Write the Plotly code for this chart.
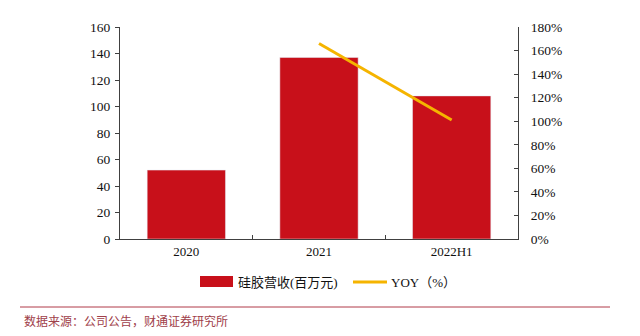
import plotly.graph_objects as go

categories = ["2020", "2021", "2022H1"]
revenue = [52, 137, 108]          # 硅胶营收(百万元)
yoy = [None, 166, 101]            # YOY (%)
left_ticks = [0, 20, 40, 60, 80, 100, 120, 140, 160]
right_ticks = [0, 20, 40, 60, 80, 100, 120, 140, 160, 180]

RED = "#C8101A"
GOLD = "#F5B400"
AX = "#404040"
SERIF = "Liberation Serif, Times New Roman, serif"
CJK = "Liberation Serif, Noto Sans CJK SC, serif"

fig = go.Figure()
fig.add_trace(go.Bar(x=categories, y=revenue, marker_color=RED, width=0.59,
                     name="硅胶营收(百万元)", showlegend=False))
fig.add_trace(go.Scatter(x=categories, y=yoy, yaxis="y2", mode="lines",
                         line=dict(color=GOLD, width=3), name="YOY（%）",
                         showlegend=False))

fig.update_layout(
    width=640, height=336,
    margin=dict(l=120, r=122, t=27, b=97),
    paper_bgcolor="white", plot_bgcolor="white",
    font=dict(family=SERIF, size=13, color="#111"),
    xaxis=dict(type="category", showline=True, linecolor=AX, linewidth=1,
               ticks="inside", ticklen=4, tickcolor=AX, tickson="boundaries",
               showgrid=False, zeroline=False,
               tickfont=dict(family=SERIF, size=13)),
    yaxis=dict(range=[0, 160], tickvals=left_ticks, showline=True, linecolor=AX,
               linewidth=1, ticks="outside", ticklen=4, tickcolor=AX,
               ticklabelstandoff=2,
               showgrid=False, zeroline=False, tickfont=dict(family=SERIF, size=13.5)),
    yaxis2=dict(range=[0, 180], tickvals=right_ticks,
                ticktext=[f"{v}%" for v in right_ticks], overlaying="y", side="right",
                showline=True, linecolor=AX, linewidth=1, ticks="inside", ticklen=4,
                tickcolor=AX, showgrid=False, zeroline=False, ticklabelstandoff=9,
                tickfont=dict(family=SERIF, size=13.5)),
    showlegend=False,
)

# manual legend
fig.add_shape(type="rect", xref="paper", yref="paper", x0=(200-120)/398, x1=(233-120)/398,
              y0=(336-97-287)/212, y1=(336-97-276)/212, fillcolor=RED, line_width=0)
fig.add_annotation(xref="paper", yref="paper", x=(236-120)/398, y=(336-97-282)/212,
                   text="硅胶营收(百万元)", showarrow=False, xanchor="left", yanchor="middle",
                   font=dict(family=CJK, size=13, color="#111"))
fig.add_shape(type="line", xref="paper", yref="paper", x0=(353-120)/398, x1=(387-120)/398,
              y0=(336-97-282)/212, y1=(336-97-282)/212, line=dict(color=GOLD, width=3))
fig.add_annotation(xref="paper", yref="paper", x=(389-120)/398, y=(336-97-282)/212,
                   text="YOY（%）", showarrow=False, xanchor="left", yanchor="middle",
                   font=dict(family=CJK, size=13, color="#111"))

# source separator and note
fig.add_shape(type="line", xref="paper", yref="paper", x0=(20-120)/398, x1=(610-120)/398,
              y0=(336-97-307)/212, y1=(336-97-307)/212, line=dict(color="#B03A48", width=1))
fig.add_annotation(xref="paper", yref="paper", x=(22-120)/398, y=(336-97-321)/212,
                   text="数据来源：公司公告，财通证券研究所", showarrow=False, xanchor="left",
                   yanchor="middle", font=dict(family=CJK, size=12, color="#A0404A"))

fig.write_html("out.html")
